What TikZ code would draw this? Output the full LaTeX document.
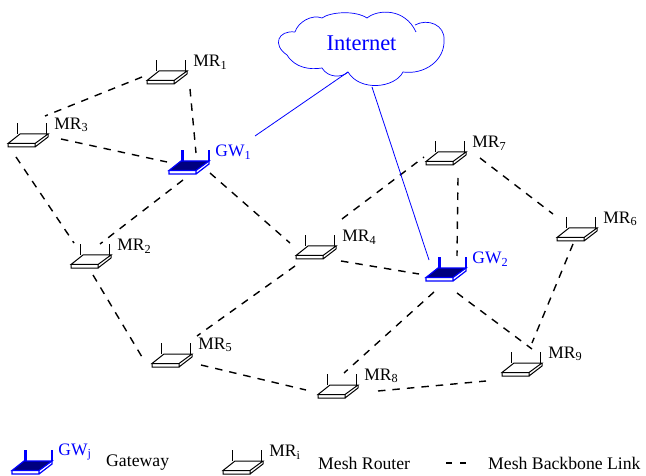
\documentclass[tikz,border=0pt]{standalone}
\usepackage{fontspec}
\setmainfont{Liberation Serif}
\usetikzlibrary{positioning}

\definecolor{gwnavy}{RGB}{0,0,128}
\tikzset{
  routerbox/.style={minimum width=40pt, minimum height=24pt, inner sep=0pt},
  tag/.style={inner sep=0pt, yshift=10pt, font=\fontsize{17.5}{20}\selectfont},
  gwtag/.style={tag, text=blue},
  legendtext/.style={inner sep=0pt, anchor=west, font=\fontsize{17.7}{20}\selectfont},
  backbone/.style={line width=1.4pt, dash pattern=on 7.5pt off 7pt},
  uplink/.style={blue, line width=.8pt},
  meshrouter/.pic={
    \draw[line width=1pt] (-10.5,-1) -- (-10.5,-12) (18,-1) -- (18,-12);
    \draw[line width=1pt, fill=white] (-20,8.5) -- (-8,-1) -- (20,-1) -- (7,8.5) -- cycle;
    \draw[line width=1pt] (-20,8.5) -- (-20,12) -- (7,12) -- (7,8.5) (7,12) -- (20,2) -- (20,-1);
  },
  gateway/.pic={
    \draw[blue, line width=2.6pt] (-6.5,-1) -- (-6.5,-12) (20,-1) -- (20,-12);
    \draw[blue, line width=1.2pt, fill=gwnavy] (-20,8.5) -- (-8,-1) -- (20,-1) -- (7,8.5) -- cycle;
    \draw[blue, line width=1.2pt] (-20,8.5) -- (-20,12) -- (7,12) -- (7,8.5) (7,12) -- (20,2) -- (20,-1);
  }
}

\begin{document}
\begin{tikzpicture}[x=1pt, y=-1pt, node distance=6pt]
  \useasboundingbox (0,0) rectangle (646,476);

  % the cloud
  \draw[blue, line width=.7pt] (295,32) .. controls (298,22) and (312,14) .. (322,18)
    .. controls (330,12) and (355,10) .. (367,18)
    .. controls (378,9) and (405,8) .. (416,32)
    (415,25) .. controls (428,18) and (445,25) .. (444,40)
    .. controls (445,60) and (425,75) .. (403,72)
    .. controls (395,88) and (360,92) .. (348,72)
    .. controls (342,78) and (328,78) .. (322,68)
    .. controls (310,70) and (295,68) .. (287,55)
    .. controls (272,45) and (278,30) .. (295,32);
  \node[text=blue, inner sep=0pt, font=\fontsize{22.5}{24}\selectfont] (internet) at (361.5,43) {Internet};
  \coordinate (cloudl) at (348,72);
  \coordinate (cloudr) at (372,87);

  % routers
  \node[routerbox] (mr1) at (167,72) {};
  \node[routerbox] (mr2) at (91,256) {};
  \node[routerbox] (mr3) at (28,135) {};
  \node[routerbox] (mr4) at (316,247) {};
  \node[routerbox] (mr5) at (172,355) {};
  \node[routerbox] (mr6) at (577,229) {};
  \node[routerbox] (mr7) at (446,153) {};
  \node[routerbox] (mr8) at (338,386) {};
  \node[routerbox] (mr9) at (522,364) {};
  \node[routerbox] (gw1) at (189,162) {};
  \node[routerbox] (gw2) at (446,269) {};

  \pic at (mr1) {meshrouter};
  \pic at (mr2) {meshrouter};
  \pic at (mr3) {meshrouter};
  \pic at (mr4) {meshrouter};
  \pic at (mr5) {meshrouter};
  \pic at (mr6) {meshrouter};
  \pic at (mr7) {meshrouter};
  \pic at (mr8) {meshrouter};
  \pic at (mr9) {meshrouter};
  \pic at (gw1) {gateway};
  \pic at (gw2) {gateway};

  \node[tag, right=of mr1] (mr1tag) {MR\textsubscript{1}};
  \node[tag, right=of mr2] (mr2tag) {MR\textsubscript{2}};
  \node[tag, right=of mr3] (mr3tag) {MR\textsubscript{3}};
  \node[tag, right=of mr4] (mr4tag) {MR\textsubscript{4}};
  \node[tag, right=of mr5] (mr5tag) {MR\textsubscript{5}};
  \node[tag, right=of mr6] (mr6tag) {MR\textsubscript{6}};
  \node[tag, right=of mr7] (mr7tag) {MR\textsubscript{7}};
  \node[tag, right=of mr8] (mr8tag) {MR\textsubscript{8}};
  \node[tag, right=of mr9] (mr9tag) {MR\textsubscript{9}};
  \node[gwtag, right=of gw1] (gw1tag) {GW\textsubscript{1}};
  \node[gwtag, right=of gw2] (gw2tag) {GW\textsubscript{2}};

  % backbone links
  \draw[backbone] ([shift={(-25,5)}]mr1.center) -- ([shift={(17,-19)}]mr3.center);
  \draw[backbone] ([shift={(23,17)}]mr1.center) -- ([shift={(7,-9)}]gw1.center);
  \draw[backbone] ([shift={(33,4)}]mr3.center) -- ([shift={(-22,0)}]gw1.center);
  \draw[backbone] ([shift={(-12,22)}]mr3.center) -- ([shift={(-17,-13)}]mr2.center);
  \draw[backbone] ([shift={(-6,18)}]gw1.center) -- ([shift={(9,-12)}]mr2.center);
  \draw[backbone] ([shift={(21,11)}]gw1.center) -- ([shift={(-26,-4)}]mr4.center);
  \draw[backbone] ([shift={(2,19)}]mr2.center) -- ([shift={(-27,7)}]mr5.center);
  \draw[backbone] ([shift={(-21,19)}]mr4.center) -- ([shift={(25,-19)}]mr5.center);
  \draw[backbone] ([shift={(26,-28)}]mr4.center) -- ([shift={(-22,4)}]mr7.center);
  \draw[backbone] ([shift={(25,14)}]mr4.center) -- ([shift={(-27,5)}]gw2.center);
  \draw[backbone] ([shift={(12,25)}]mr7.center) -- ([shift={(11,-13)}]gw2.center);
  \draw[backbone] ([shift={(34,5)}]mr7.center) -- ([shift={(-24,-15)}]mr6.center);
  \draw[backbone] ([shift={(-12,23)}]gw2.center) -- ([shift={(6,-13)}]mr8.center);
  \draw[backbone] ([shift={(11,24)}]gw2.center) -- ([shift={(10,-15)}]mr9.center);
  \draw[backbone] ([shift={(-4,15)}]mr6.center) -- ([shift={(10,-21)}]mr9.center);
  \draw[backbone] ([shift={(29,10)}]mr5.center) -- ([shift={(-32,4)}]mr8.center);
  \draw[backbone] ([shift={(40,5)}]mr8.center) -- ([shift={(-36,17)}]mr9.center);

  % links to the internet
  \draw[uplink] (cloudl) -- ([shift={(66,-26)}]gw1.center);
  \draw[uplink] (cloudr) -- ([shift={(-17,-9)}]gw2.center);

  % legend
  \node[routerbox] (gwj) at (32,462) {};
  \node[routerbox] (mri) at (243,462) {};
  \pic at (gwj) {gateway};
  \pic at (mri) {meshrouter};
  \node[gwtag, right=of gwj] (gwjtag) {GW\textsubscript{j}};
  \node[tag, right=of mri] (mritag) {MR\textsubscript{i}};
  \node[legendtext] (gwtext) at (106,463) {Gateway};
  \node[legendtext] (mrtext) at (318,463) {Mesh Router};
  \node[legendtext] (linktext) at (488,463) {Mesh Backbone Link};
  \coordinate (linka) at (446,463);
  \coordinate (linkb) at (467,463);
  \draw[backbone, dash pattern=on 6pt off 8pt] (linka) -- (linkb);
\end{tikzpicture}
\end{document}
